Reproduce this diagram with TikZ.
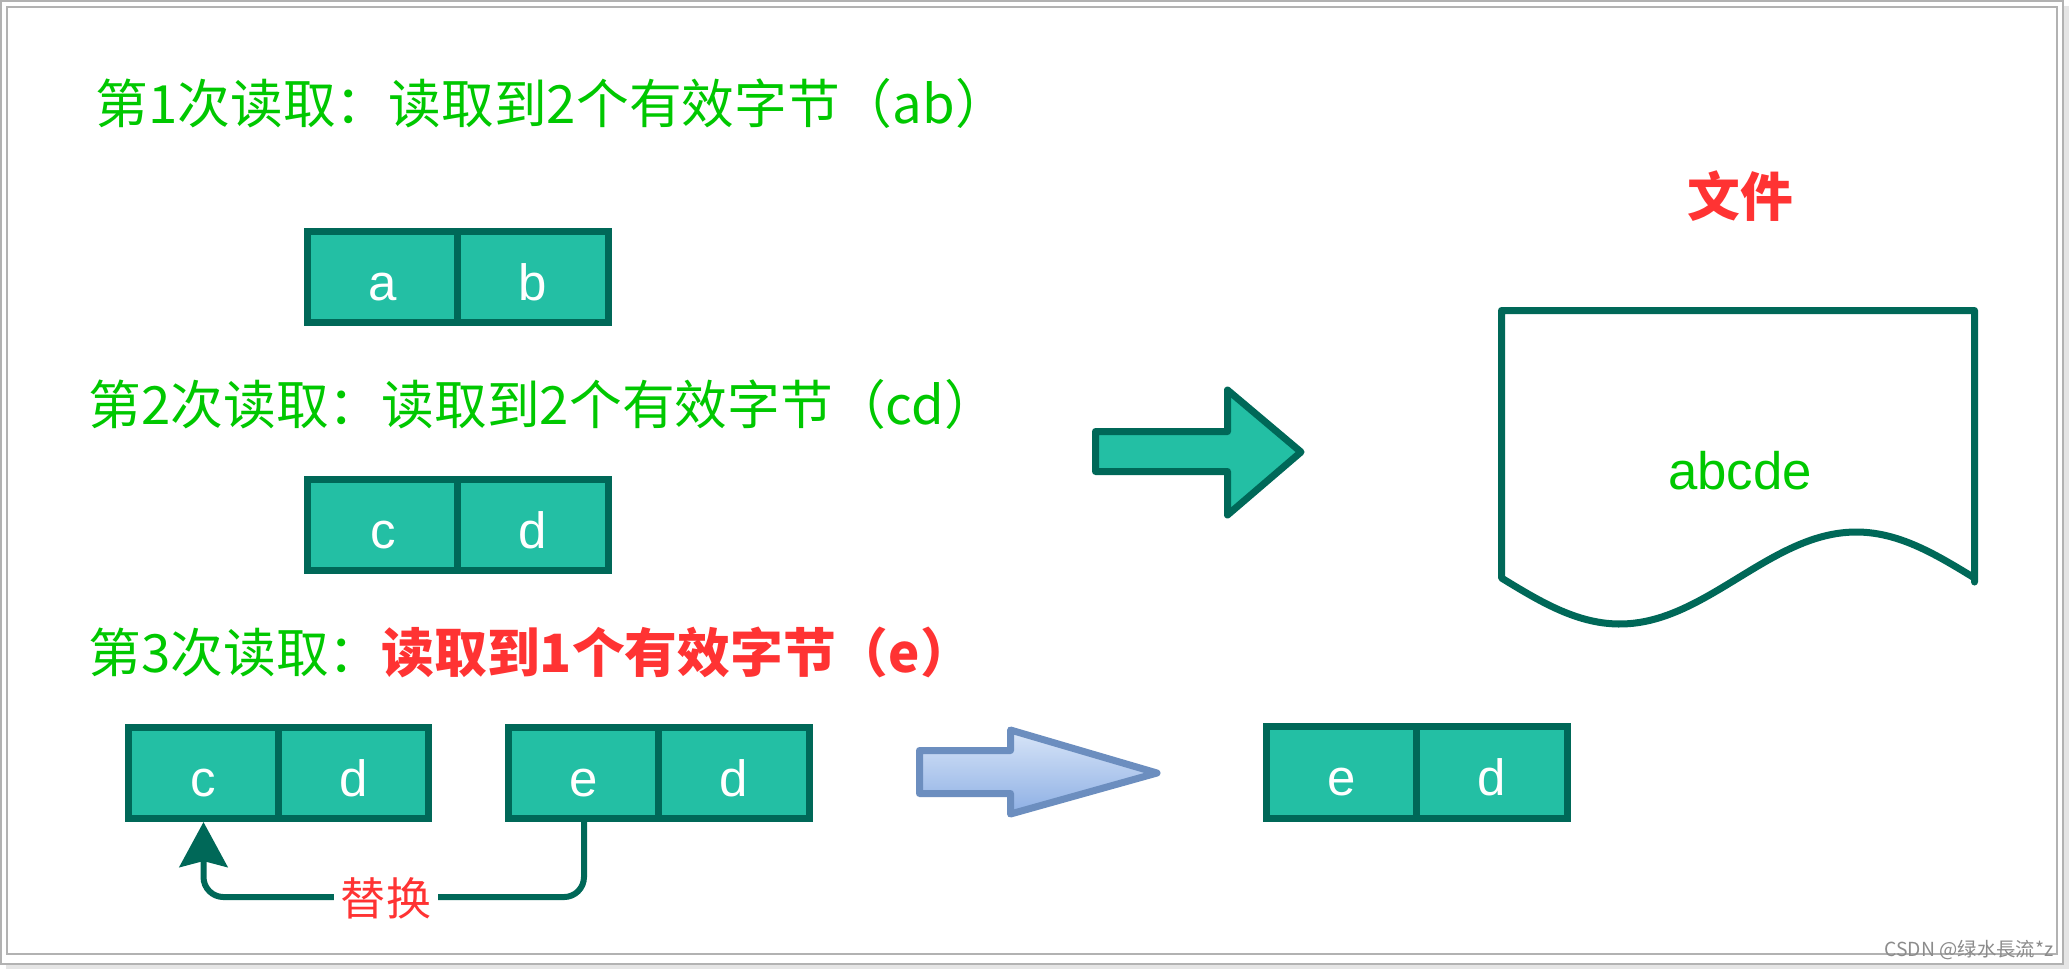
\documentclass[tikz,border=0pt]{standalone}
\usepackage{fontspec}
\setmainfont{Liberation Sans}
\newfontfamily\cjk{Noto Sans CJK SC}
\usetikzlibrary{arrows.meta,calc}
\definecolor{teal1}{HTML}{23BFA4}
\definecolor{dkgreen}{HTML}{006858}
\definecolor{txtgreen}{HTML}{00C800}
\definecolor{txtred}{HTML}{FF3333}
\definecolor{blueline}{HTML}{6C8EBF}
\definecolor{bluetop}{HTML}{D8E5F8}
\definecolor{bluebot}{HTML}{8DAFE4}
\begin{document}
\begin{tikzpicture}[x=0.01cm,y=-0.01cm,
  cell/.style={draw=dkgreen, fill=teal1, line width=0.07cm, minimum width=1.5cm, minimum height=0.91cm, inner sep=0pt, text=white, text height=0.46cm, text depth=0cm, font=\fontsize{14.5}{16}\selectfont},
  title/.style={anchor=west, inner sep=0pt, text=txtgreen, font=\cjk\fontsize{15}{18}\selectfont},
  bigarrow/.style={line width=0.07cm, line join=round},
]
\useasboundingbox (0,0) rectangle (2069,969);
% frame with shadow
\fill[black!10] (6,6) rectangle (2069,969);
\filldraw[fill=white, draw=black!30, line width=0.02cm] (1,1) rectangle (2063,964);
\draw[black!30, line width=0.015cm] (7,7) rectangle (2057,954);

% titles
\node[title] (t1) at (95,103) {第1次读取：读取到2个有效字节（ab）};
\node[title] (t2) at (88,404) {第2次读取：读取到2个有效字节（cd）};
\node[title] (t3) at (88,652) {第3次读取：\textcolor{txtred}{\bfseries 读取到1个有效字节（e）}};

% cells
\node[cell] (a1) at (383,277) {a};
\node[cell] (b1) at (533,277) {b};
\node[cell] (c2) at (383,525) {c};
\node[cell] (d2) at (533,525) {d};
\node[cell] (c3) at (203.5,773) {c};
\node[cell] (d3) at (353.5,773) {d};
\node[cell] (e3) at (584,773) {e};
\node[cell] (d4) at (734,773) {d};
\node[cell] (e5) at (1342,772.5) {e};
\node[cell] (d5) at (1492,772.5) {d};

% replace arrow
\draw[dkgreen, line width=0.06cm, rounded corners=0.2cm, -{Stealth[length=0.45cm,width=0.48cm,inset=0.06cm]}] (e3.south) -- ++(0,75) -| (c3.south);
\node[fill=white, text=txtred, font=\cjk\fontsize{12.8}{14}\selectfont, inner sep=2pt] (rep) at (386,898) {替换};

% green arrow
\draw[bigarrow, draw=dkgreen, fill=teal1] (1095.5,431.5) -- (1227.5,431.5) -- (1227.5,390) -- (1301,452) -- (1227.5,515) -- (1227.5,471.5) -- (1095.5,471.5) -- cycle;

% blue arrow
\draw[bigarrow, draw=blueline, top color=bluetop, bottom color=bluebot] (919.5,750.5) -- (1010.5,750.5) -- (1010.5,730) -- (1157,773) -- (1010.5,814) -- (1010.5,793.5) -- (919.5,793.5) -- cycle;

% document shape
\draw[dkgreen, line width=0.07cm, fill=white, line join=round] (1974.5,582) -- (1974.5,310.5) -- (1501.5,310.5) -- (1501.5,578) -- plot[domain=0:473, samples=90] ({1501.5+\x},{578+46*sin(\x/473*360)}) -- cycle;
\node[text=txtgreen, font=\fontsize{15}{18}\selectfont, inner sep=0pt] (fc) at (1740,471) {abcde};
\node[text=txtred, font=\cjk\bfseries\fontsize{15}{18}\selectfont, inner sep=0pt] (fl) at (1740,196) {文件};

% watermark
\node[anchor=east, text=black!45, font=\cjk\fontsize{5.5}{6}\selectfont, inner sep=0pt] (wm) at (2054,950) {CSDN @绿水長流*z};
\end{tikzpicture}
\end{document}
